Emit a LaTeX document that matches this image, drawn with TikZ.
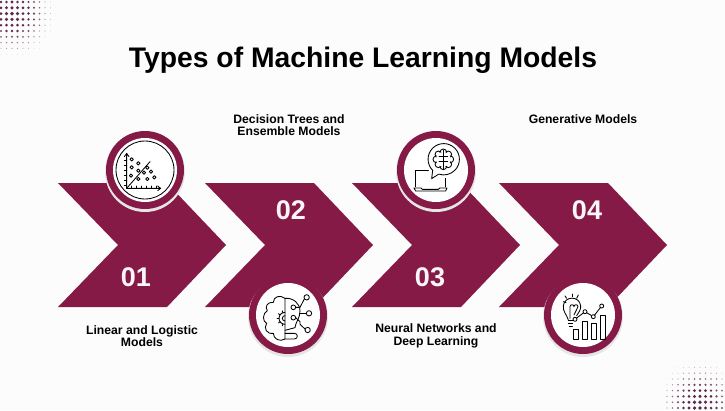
\documentclass[tikz,border=0pt]{standalone}
\usepackage{fontspec}
\setmainfont{Liberation Sans}
\usetikzlibrary{positioning}
\definecolor{wine}{HTML}{861A47}
\definecolor{dotcol}{HTML}{5E2A4C}
\definecolor{paper}{HTML}{FCFCFC}
\tikzset{
  heading/.style={font=\fontsize{28.3}{30}\selectfont\bfseries, text=black},
  numeral/.style={font=\fontsize{27}{30}\selectfont\bfseries, text=white!96!wine},
  caption/.style={font=\fontsize{12.2}{12.6}\selectfont\bfseries, text=black, align=center},
  chevron/.style={fill=wine, draw=none},
  ink/.style={draw=black, line width=0.85pt, line join=round, line cap=round},
  trace/.style 2 args={x=0.3333pt, y=-0.3333pt, shift={(#1pt,-#2pt)}}
}
\begin{document}
\begin{tikzpicture}[x=1pt,y=-1pt]
  \fill[paper] (0,0) rectangle (725,410);
  \useasboundingbox (0,0) rectangle (725,410);
  % Halftone corners
  \foreach \i in {0,...,12}
    \foreach \j in {0,...,10} {
      \pgfmathsetmacro{\rad}{max(0,2.0-0.04*sqrt((5.5*\i-12)^2+(5.8*\j-12)^2))}
      \pgfmathsetmacro{\shade}{max(8,min(100,\rad*75))}
      \ifdim\rad pt>0.15pt
        \fill[dotcol!\shade!white] ({1+5.5*\i},{2+5.8*\j}) circle (\rad);
      \fi
    }
  \foreach \i in {0,...,10}
    \foreach \j in {0,...,10} {
      \pgfmathsetmacro{\rad}{max(0,2.0-0.04*sqrt((5.5*\i-32)^2+(5.8*\j-54)^2))}
      \pgfmathsetmacro{\shade}{max(8,min(100,\rad*75))}
      \ifdim\rad pt>0.15pt
        \fill[dotcol!\shade!white] ({667+5.5*\i},{350+5.8*\j}) circle (\rad);
      \fi
    }
  \node[heading] (title) at (363,60) {Types of Machine Learning Models};
  % Chevrons
  \foreach \x in {58,205,352,499}
    \fill[chevron] (\x,183) -- (\x+109,183) -- (\x+168,245) -- (\x+109,307)
      -- (\x,307) -- (\x+60,245) -- cycle;
  \node[numeral] (numa) at (136,277) {01};
  \node[numeral] (numb) at (291,210) {02};
  \node[numeral] (numc) at (430,277) {03};
  \node[numeral] (numd) at (587,210) {04};
  \node[caption] (capa) at (142,336) {Linear and Logistic\\Models};
  \node[caption] (capb) at (289,125) {Decision Trees and\\Ensemble Models};
  \node[caption] (capc) at (436,336) {Neural Networks and\\Deep Learning};
  \node[caption] (capd) at (583,119) {Generative Models};
  % Discs
  \foreach \x/\y in {145/170, 288/315, 436/170, 583/315} {
    \fill[black!10] (\x,\y+2) circle (40);
    \fill[wine] (\x,\y) circle (39);
    \fill[white] (\x,\y) circle (32);
  }
  % Scatter icon
  \begin{scope}[trace={90}{120}]
    \draw[ink] (165,150) circle (87);
    \draw[ink] (110,205) -- (110,100) (103,110) -- (110,100) -- (117,110);
    \draw[ink] (110,205) -- (212,205) (203,198) -- (212,205) -- (203,212);
    \foreach \t in {120,135,...,195}
      \draw[ink] (103,\t) -- (110,\t);
    \foreach \t in {125,140,...,200}
      \draw[ink] (\t,205) -- (\t,198);
    \draw[ink] (110,205) -- (180,125);
    \foreach \x/\y in {125/118, 145/130, 125/142, 145/152, 123/167, 162/158,
                       145/177, 183/155, 172/177, 193/172, 172/143}
      \draw[ink, fill=white] (\x,\y) circle (5);
  \end{scope}
  % Brain circuit icon
  \begin{scope}[trace={235}{265}]
    \draw[ink] (150,100) .. controls (135,88) and (115,95) .. (115,112)
      .. controls (98,110) and (88,125) .. (97,137)
      .. controls (82,145) and (82,170) .. (95,175)
      .. controls (85,190) and (95,208) .. (115,205)
      .. controls (115,222) and (135,232) .. (150,222) -- cycle;
    \draw[ink] (150,100) .. controls (175,98) and (195,115) .. (195,138)
      .. controls (195,160) and (182,170) .. (180,188) -- (150,196);
    \draw[ink] (150,222) -- (178,222) .. controls (190,222) and (190,205) .. (178,205) -- (150,205);
    \draw[ink] (150,142) arc (-90:-270:18);
    \draw[ink] (150,152) arc (-90:-270:8);
    \foreach \a in {110,145,...,250}
      \draw[ink] (150,160) ++(\a:18) -- ++(\a:6);
    \draw[ink] (182,127) -- (195,127) -- (208,102);
    \draw[ink] (195,145) -- (213,145);
    \draw[ink] (182,158) -- (195,170) -- (195,178) -- (210,192);
    \foreach \x/\y/\r in {215/97/8, 222/145/8, 218/195/8, 175/127/7, 175/158/7}
      \draw[ink, fill=white] (\x,\y) circle (\r);
  \end{scope}
  % Laptop and thought icon
  \begin{scope}[trace={385}{120}]
    \draw[ink] (130,150) -- (92,150) -- (92,200) (180,175) -- (180,200);
    \draw[ink] (87,204) -- (108,204) -- (112,208) -- (160,208) -- (164,204) -- (186,204)
      -- (182,213) -- (92,213) -- cycle;
    \draw[ink] (160,163) -- (140,176) -- (143,151) arc (135:468:47);
    \foreach \a in {0,45,...,315}
      \draw[ink] (175,118) ++(\a:21) circle (10);
    \fill[white] (175,118) circle (22);
    \draw[ink] (175,90) -- (175,146);
    \foreach \y/\s in {108/1, 108/-1, 125/1, 125/-1}
      \draw[ink] (175,\y) -- ++(\s*13,0);
  \end{scope}
  % Bulb and chart icon
  \begin{scope}[trace={530}{265}]
    \draw[ink] (115,165) .. controls (110,148) and (98,140) .. (100,122)
      .. controls (104,92) and (148,92) .. (152,122)
      .. controls (154,135) and (145,142) .. (140,152);
    \draw[ink] (115,165) -- (132,165) (115,174) -- (128,174) (118,183) -- (127,183);
    \draw[ink] (120,160) -- (120,125) arc (180:360:6) arc (180:360:6) -- (132,150);
    \foreach \x/\y/\u/\v in {100/110/108/113, 105/93/110/100, 127/87/127/95, 145/90/140/100}
      \draw[ink] (\x,\y) -- (\u,\v);
    \draw[ink] (135,163) -- (165,140) -- (190,155) -- (215,123);
    \foreach \x/\y in {135/163, 165/140, 190/155, 215/123}
      \draw[ink, fill=white] (\x,\y) circle (6);
    \foreach \l/\t/\w in {130/192/15, 158/170/14, 185/175/13, 210/150/15}
      \draw[ink] (\l,222) rectangle (\l+\w,\t);
  \end{scope}
\end{tikzpicture}
\end{document}
